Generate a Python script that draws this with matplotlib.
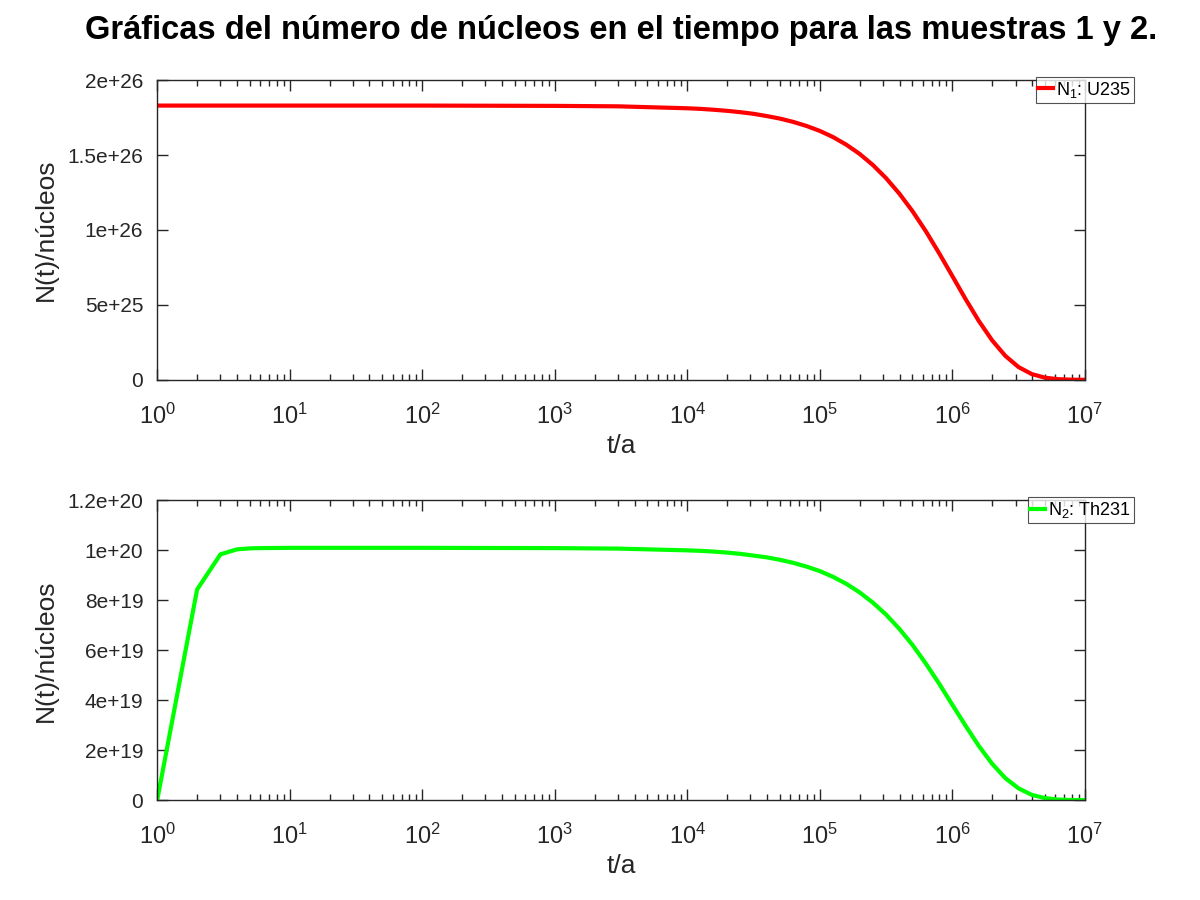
import matplotlib
matplotlib.use("Agg")
import matplotlib.pyplot as plt
from matplotlib.ticker import FixedLocator, LogLocator, NullFormatter

plt.rcParams['font.family'] = ['Liberation Sans', 'DejaVu Sans']
plt.rcParams['mathtext.fontset'] = 'custom'
plt.rcParams['mathtext.rm'] = 'Liberation Sans'
plt.rcParams['mathtext.it'] = 'Liberation Sans'

# tiempo (años)
t = [1, 2, 3, 4, 5, 6, 10, 100, 1e3, 3e3,
     1e4, 1.259e4, 1.585e4, 1.995e4, 2.512e4, 3.162e4, 3.981e4, 5.012e4, 6.31e4, 7.943e4,
     1e5, 1.259e5, 1.585e5, 1.995e5, 2.512e5, 3.162e5, 3.981e5, 5.012e5, 6.31e5, 7.943e5,
     1e6, 1.259e6, 1.585e6, 1.995e6, 2.512e6, 3.162e6, 3.981e6, 5.012e6, 6.31e6, 7.943e6, 1e7]

# muestra 1: U235 (núcleos)
n1 = [1.83e26, 1.83e26, 1.83e26, 1.83e26, 1.83e26, 1.83e26, 1.83e26, 1.83e26, 1.828e26, 1.825e26,
      1.812e26, 1.808e26, 1.802e26, 1.795e26, 1.786e26, 1.775e26, 1.760e26, 1.743e26, 1.721e26, 1.694e26,
      1.661e26, 1.620e26, 1.569e26, 1.508e26, 1.434e26, 1.346e26, 1.243e26, 1.125e26, 0.992e26, 0.846e26,
      0.693e26, 0.539e26, 0.393e26, 0.264e26, 0.160e26, 0.085e26, 0.038e26, 0.014e26, 0.004e26, 0.0008e26,
      0.0001e26]

# muestra 2: Th231 (núcleos)
n2 = [0, 8.43e19, 9.84e19, 1.004e20, 1.008e20, 1.009e20, 1.01e20, 1.01e20, 1.009e20, 1.007e20,
      10.00e19, 9.98e19, 9.95e19, 9.91e19, 9.86e19, 9.79e19, 9.72e19, 9.62e19, 9.50e19, 9.35e19,
      9.17e19, 8.94e19, 8.66e19, 8.32e19, 7.91e19, 7.43e19, 6.86e19, 6.21e19, 5.47e19, 4.67e19,
      3.82e19, 2.98e19, 2.17e19, 1.46e19, 0.88e19, 0.47e19, 0.21e19, 0.078e19, 0.022e19, 0.0045e19,
      0.0006e19]

yticks1 = [0, 5e25, 1e26, 1.5e26, 2e26]
ylabels1 = ["0", "5e+25", "1e+26", "1.5e+26", "2e+26"]
yticks2 = [0, 2e19, 4e19, 6e19, 8e19, 1e20, 1.2e20]
ylabels2 = ["0", "2e+19", "4e+19", "6e+19", "8e+19", "1e+20", "1.2e+20"]

gris = "#262626"

fig = plt.figure(figsize=(12, 9), dpi=100)
ax1 = fig.add_axes([0.131, 0.578, 0.773, 0.333])
ax2 = fig.add_axes([0.131, 0.111, 0.773, 0.333])

fig.text(0.518, 0.966, "Gráficas del número de núcleos en el tiempo para las muestras 1 y 2.",
         ha="center", va="center", fontsize=23.5, fontweight="bold", color="black")


def estilo(ax, ticks, etiquetas, ymax):
    ax.set_xscale("log")
    ax.set_xlim(1, 1e7)
    ax.set_ylim(0, ymax)
    ax.yaxis.set_major_locator(FixedLocator(ticks))
    ax.set_yticklabels(etiquetas)
    ax.xaxis.set_major_locator(LogLocator(base=10, numticks=10))
    ax.xaxis.set_minor_locator(LogLocator(base=10, subs=range(2, 10), numticks=20))
    ax.xaxis.set_minor_formatter(NullFormatter())
    ax.tick_params(which="both", direction="in", top=True, right=True, colors=gris, width=1)
    ax.tick_params(which="major", length=8)
    ax.tick_params(which="minor", length=4)
    ax.tick_params(axis="y", labelsize=15, pad=10)
    ax.tick_params(axis="x", labelsize=17, pad=17)
    for s in ax.spines.values():
        s.set_color(gris)
        s.set_linewidth(1)
    ax.set_xlabel("t/a", fontsize=19, color=gris, labelpad=4)
    ax.set_ylabel("N(t)/núcleos", fontsize=19, color=gris, labelpad=7)


ax1.plot(t, n1, color="#ff0000", linewidth=3, label="$\\mathregular{N_1}$: U235")
estilo(ax1, yticks1, ylabels1, 2e26)
ax2.plot(t, n2, color="#00ff00", linewidth=3, label="$\\mathregular{N_2}$: Th231")
estilo(ax2, yticks2, ylabels2, 1.2e20)

for ax in (ax1, ax2):
    leg = ax.legend(loc="upper right", bbox_to_anchor=(1.053, 1.01), fontsize=13,
                    frameon=True, fancybox=False, handlelength=0.8, handletextpad=0.2,
                    borderpad=0.15, borderaxespad=0)
    leg.get_frame().set_edgecolor(gris)
    leg.get_frame().set_linewidth(0.8)

fig.savefig("out.png", dpi=100)
